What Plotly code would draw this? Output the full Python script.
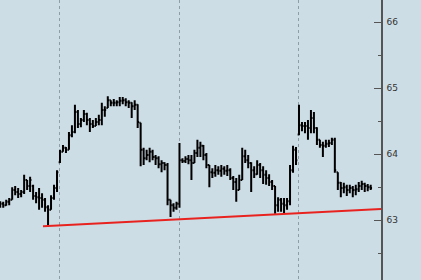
import plotly.graph_objects as go

# bar index (one bar per period)
bar_idx = list(range(125))

high = [63.29, 63.28, 63.31, 63.34, 63.50, 63.52, 63.49, 63.46, 63.69, 63.61,
        63.66, 63.54, 63.43, 63.49, 63.41, 63.34, 63.23, 63.38, 63.54, 63.76,
        64.07, 64.14, 64.11, 64.34, 64.44, 64.75, 64.67, 64.55, 64.67, 64.63,
        64.55, 64.52, 64.55, 64.60, 64.78, 64.73, 64.88, 64.82, 64.84, 64.82,
        64.87, 64.87, 64.85, 64.82, 64.79, 64.82, 64.76, 64.48, 64.10, 64.07,
        64.10, 64.07, 63.99, 63.97, 63.91, 63.88, 63.87, 63.31, 63.26, 63.28,
        64.17, 63.94, 63.97, 63.99, 63.99, 64.07, 64.22, 64.19, 64.14, 64.02,
        63.84, 63.79, 63.84, 63.82, 63.84, 63.82, 63.84, 63.79, 63.67, 63.64,
        63.69, 64.10, 64.07, 63.99, 63.88, 63.82, 63.91, 63.87, 63.82, 63.76,
        63.70, 63.61, 63.52, 63.35, 63.34, 63.34, 63.34, 63.84, 64.13, 64.11,
        64.75, 64.49, 64.49, 64.52, 64.67, 64.64, 64.41, 64.22, 64.19, 64.22,
        64.22, 64.25, 64.25, 63.73, 63.58, 63.57, 63.54, 63.54, 63.52, 63.54,
        63.58, 63.60, 63.57, 63.55, 63.54]

low = [63.19, 63.19, 63.22, 63.23, 63.31, 63.38, 63.34, 63.35, 63.40, 63.46,
       63.43, 63.31, 63.26, 63.16, 63.19, 63.13, 62.90, 63.16, 63.31, 63.43,
       63.87, 64.04, 64.02, 64.07, 64.26, 64.32, 64.40, 64.41, 64.49, 64.44,
       64.34, 64.40, 64.43, 64.44, 64.44, 64.57, 64.70, 64.73, 64.73, 64.73,
       64.73, 64.76, 64.73, 64.70, 64.55, 64.67, 64.40, 63.82, 63.84, 63.91,
       63.88, 63.91, 63.84, 63.79, 63.73, 63.76, 63.23, 63.05, 63.13, 63.16,
       63.19, 63.87, 63.87, 63.85, 63.61, 63.87, 63.96, 63.96, 63.91, 63.79,
       63.50, 63.64, 63.66, 63.69, 63.66, 63.69, 63.67, 63.61, 63.46, 63.28,
       63.46, 63.61, 63.87, 63.79, 63.43, 63.64, 63.69, 63.64, 63.55, 63.54,
       63.52, 63.46, 63.10, 63.13, 63.13, 63.11, 63.16, 63.23, 63.72, 63.84,
       64.29, 64.35, 64.32, 64.22, 64.32, 64.32, 64.14, 64.10, 63.96, 64.10,
       64.11, 64.14, 63.72, 63.46, 63.35, 63.41, 63.37, 63.41, 63.35, 63.38,
       63.43, 63.46, 63.43, 63.44, 63.46]

close = [63.25, 63.23, 63.28, 63.31, 63.46, 63.43, 63.40, 63.43, 63.61, 63.52,
         63.61, 63.37, 63.35, 63.34, 63.31, 63.20, 63.16, 63.34, 63.49, 63.73,
         64.04, 64.10, 64.07, 64.29, 64.34, 64.64, 64.46, 64.52, 64.61, 64.52,
         64.46, 64.43, 64.49, 64.52, 64.67, 64.67, 64.82, 64.78, 64.78, 64.79,
         64.81, 64.82, 64.79, 64.78, 64.73, 64.75, 64.49, 64.07, 63.94, 63.99,
         64.04, 63.96, 63.94, 63.85, 63.87, 63.84, 63.31, 63.23, 63.19, 63.25,
         63.91, 63.90, 63.93, 63.91, 63.87, 64.02, 64.10, 64.13, 63.99, 63.84,
         63.73, 63.72, 63.76, 63.75, 63.78, 63.75, 63.76, 63.64, 63.58, 63.46,
         63.61, 63.97, 63.91, 63.87, 63.76, 63.70, 63.84, 63.76, 63.69, 63.64,
         63.58, 63.52, 63.23, 63.31, 63.25, 63.23, 63.29, 63.76, 64.07, 63.91,
         64.44, 64.43, 64.43, 64.40, 64.55, 64.40, 64.22, 64.14, 64.13, 64.16,
         64.17, 64.22, 63.76, 63.57, 63.49, 63.50, 63.46, 63.49, 63.46, 63.47,
         63.52, 63.55, 63.52, 63.50, 63.49]

open_ = [63.23, 63.25, 63.23, 63.28, 63.31, 63.46, 63.43, 63.40, 63.43, 63.61,
         63.52, 63.52, 63.37, 63.35, 63.34, 63.31, 63.20, 63.16, 63.34, 63.49,
         63.88, 64.04, 64.10, 64.07, 64.29, 64.34, 64.64, 64.46, 64.52, 64.61,
         64.52, 64.46, 64.43, 64.49, 64.52, 64.67, 64.70, 64.82, 64.78, 64.78,
         64.79, 64.81, 64.82, 64.79, 64.78, 64.73, 64.75, 64.48, 64.07, 63.94,
         63.99, 64.04, 63.96, 63.94, 63.85, 63.87, 63.84, 63.31, 63.23, 63.19,
         63.25, 63.91, 63.90, 63.93, 63.91, 63.87, 64.02, 64.10, 64.13, 63.99,
         63.84, 63.73, 63.72, 63.76, 63.75, 63.78, 63.75, 63.76, 63.64, 63.58,
         63.46, 63.61, 63.97, 63.91, 63.87, 63.76, 63.70, 63.84, 63.76, 63.69,
         63.64, 63.58, 63.52, 63.23, 63.31, 63.25, 63.23, 63.29, 63.76, 64.07,
         64.30, 64.44, 64.43, 64.43, 64.40, 64.55, 64.40, 64.22, 64.14, 64.13,
         64.16, 64.17, 64.22, 63.73, 63.57, 63.49, 63.50, 63.46, 63.49, 63.46,
         63.47, 63.52, 63.55, 63.52, 63.50]

# support trendline
trend_x = [14.3, 127.45]
trend_y = [62.91, 63.17]

# period separators
grid_x = [20, 60, 100]
y_ticks = [63, 64, 65, 66]

bg = "#cddde6"

fig = go.Figure()
fig.add_trace(go.Ohlc(
    x=bar_idx, open=open_, high=high, low=low, close=close,
    increasing=dict(line=dict(color="black", width=2)),
    decreasing=dict(line=dict(color="black", width=2)),
    tickwidth=0.45, showlegend=False, hoverinfo="skip",
))
fig.add_trace(go.Scatter(
    x=trend_x, y=trend_y, mode="lines",
    line=dict(color="#e8231f", width=2), showlegend=False, hoverinfo="skip",
))

fig.update_layout(
    width=421, height=280,
    margin=dict(l=0, r=40, t=0, b=0),
    paper_bgcolor=bg, plot_bgcolor=bg,
    font=dict(family="DejaVu Sans", size=9, color="#333333"),
    xaxis=dict(
        range=[-0.08, 127.45], rangeslider=dict(visible=False),
        tickvals=grid_x, showticklabels=False, ticks="",
        showgrid=True, gridcolor="#8f9ea6", griddash="dot", gridwidth=1,
        zeroline=False, showline=False, fixedrange=True,
    ),
    yaxis=dict(
        side="right", range=[62.096, 66.338],
        tickvals=y_ticks, ticks="inside", ticklen=7, tickcolor="#555555",
        tickwidth=1, showgrid=False, zeroline=False,
        showline=True, linecolor="#555555", linewidth=1.5,
        minor=dict(dtick=0.5, ticks="inside", ticklen=3, tickcolor="#555555", showgrid=False),
        ticklabelstandoff=2,
    ),
)

fig.write_html("out.html")
